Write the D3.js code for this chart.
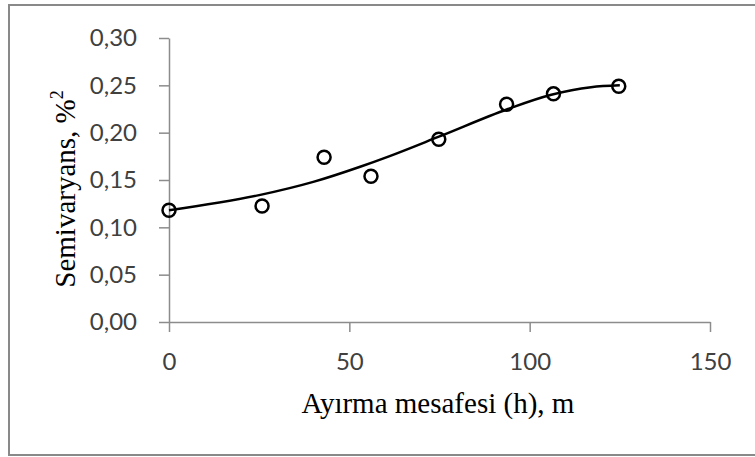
<!DOCTYPE html>
<html><head><meta charset="utf-8">
<script src="https://cdn.jsdelivr.net/npm/d3@7"></script>
<style>body{margin:0;background:#fff}</style>
</head><body>
<svg id="c" width="755" height="457"></svg>
<script>
// observed semivariance points
const lagH = [0, 25.8, 43, 56, 74.8, 93.6, 106.6, 124.7];
const semiV = [0.118, 0.1225, 0.174, 0.154, 0.193, 0.230, 0.241, 0.249];
// fitted model curve
const curveH = [0, 25, 40, 53, 61, 75, 94, 106, 117, 125];
const curveV = [0.118, 0.134, 0.148, 0.164, 0.175, 0.196, 0.225, 0.240, 0.248, 0.250];
const xTicks = [0, 50, 100, 150];
const yTicks = [0, 0.05, 0.10, 0.15, 0.20, 0.25, 0.30];
const xTitle = "Ayırma mesafesi (h), m";
const yTitle = "Semivaryans, %";

const svg = d3.select("#c");
svg.append("rect").attr("x", 9).attr("y", 5).attr("width", 760).attr("height", 450)
  .attr("fill", "#fff").attr("stroke", "#898989").attr("stroke-width", 2);

const x = d3.scaleLinear().domain([0, 150]).range([169, 710]);
const y = d3.scaleLinear().domain([0, 0.30]).range([322, 38]);
const axisCol = "#8c8c8c";

const gx = svg.append("g").attr("transform", "translate(0,322)")
  .call(d3.axisBottom(x).tickValues(xTicks).tickSize(10).tickSizeOuter(0).tickPadding(21));
const gy = svg.append("g").attr("transform", "translate(169,0)")
  .call(d3.axisLeft(y).tickValues(yTicks).tickSize(10).tickSizeOuter(0).tickPadding(22)
    .tickFormat(d => d3.format(".2f")(d).replace(".", ",")));
[gx, gy].forEach(g => {
  g.select(".domain").attr("stroke", axisCol).attr("stroke-width", 1.5);
  g.selectAll(".tick line").attr("stroke", axisCol).attr("stroke-width", 1.5);
  g.selectAll(".tick text").attr("fill", "#404040").attr("font-family", "Lato, sans-serif").attr("font-size", 24);
});
gx.selectAll(".tick text").attr("dy", "0.71em");

const line = d3.line().x(d => x(d[0])).y(d => y(d[1])).curve(d3.curveMonotoneX);
svg.append("path").datum(curveH.map((h, i) => [h, curveV[i]]))
  .attr("d", line).attr("fill", "none").attr("stroke", "#000").attr("stroke-width", 2.5);

svg.append("g").selectAll("circle").data(lagH.map((h, i) => [h, semiV[i]])).join("circle")
  .attr("cx", d => x(d[0])).attr("cy", d => y(d[1])).attr("r", 6.5)
  .attr("fill", "none").attr("stroke", "#000").attr("stroke-width", 2.5);

svg.append("text").attr("x", 438).attr("y", 413).attr("text-anchor", "middle")
  .attr("font-family", "'Liberation Serif', serif").attr("font-size", 29).attr("fill", "#000")
  .text(xTitle);
const yt = svg.append("text").attr("transform", "translate(75,189) rotate(-90)").attr("text-anchor", "middle")
  .attr("font-family", "'Liberation Serif', serif").attr("font-size", 29).attr("fill", "#000");
yt.append("tspan").text(yTitle);
yt.append("tspan").attr("font-size", 18).attr("dy", -12).text("2");
</script>
</body></html>
